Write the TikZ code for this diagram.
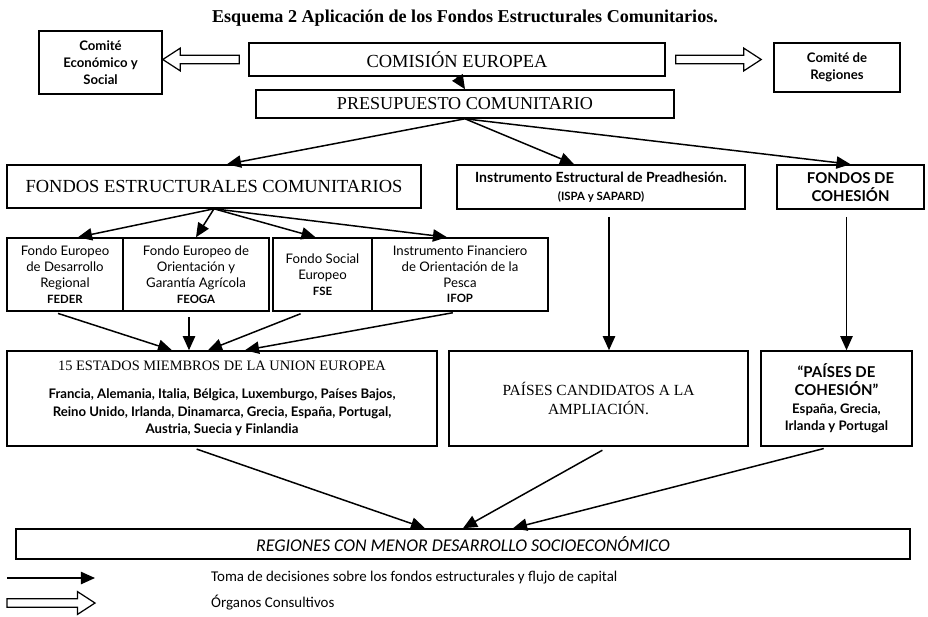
\documentclass[tikz,border=0pt]{standalone}
\usepackage{fontspec}
\setmainfont{Liberation Serif}
\newfontfamily\optfont{Lato}
\newfontfamily\gillfont{Carlito}
\usetikzlibrary{arrows.meta,calc}

\tikzset{
  box/.style={draw, line width=0.9pt, inner sep=1pt, align=center},
  flow/.style={line width=0.85pt, -{Triangle[length=8pt,width=7pt]}},
  hollow/.style={line width=0.7pt, to path={
    let \p1=(\tikztostart), \p2=(\tikztotarget), \n1={sign(\x2-\x1)} in
    ({\x1},{\y1+2.4pt}) -- ({\x2-(\n1)*10pt},{\y1+2.4pt}) -- ({\x2-(\n1)*10pt},{\y1+6.5pt})
    -- ({\x2},{\y1}) -- ({\x2-(\n1)*10pt},{\y1-6.5pt}) -- ({\x2-(\n1)*10pt},{\y1-2.4pt})
    -- ({\x1},{\y1-2.4pt}) -- cycle}},
  capstxt/.style={font=\fontsize{10.5}{12}\selectfont},
  boldtxt/.style={font=\optfont\bfseries\fontsize{7.5}{9.5}\selectfont},
  fundtxt/.style={font=\optfont\fontsize{7.5}{9}\selectfont},
  legtxt/.style={font=\gillfont\fontsize{8.5}{10}\selectfont, anchor=west},
}
\newcommand{\acro}[1]{{\bfseries\fontsize{6.5}{9}\selectfont #1}}
\newcommand{\ctyfont}{\optfont\bfseries\fontsize{7.5}{9.5}\selectfont}

\begin{document}
\begin{tikzpicture}[x=0.02cm, y=-0.02cm]
  \useasboundingbox (0,0) rectangle (928,616);
  % Title
  \node[font=\bfseries\fontsize{10.3}{12}\selectfont] (title) at (465,18)
    {Esquema 2 Aplicación de los Fondos Estructurales Comunitarios.};
  % Top row: commission and consultative bodies
  \node[box, boldtxt, minimum width=2.46cm, minimum height=1.26cm] (ces) at (100.5,62.5) {Comité\\Económico y\\Social};
  \node[box, capstxt, minimum width=8.32cm, minimum height=0.66cm] (com) at (457,59.5) {COMISIÓN EUROPEA};
  \node[box, boldtxt, minimum width=2.52cm, minimum height=0.98cm] (cdr) at (837,67.5) {Comité de\\Regiones};
  \node[box, font=\fontsize{10.3}{12}\selectfont, minimum width=8.36cm, minimum height=0.56cm] (pre) at (465,104) {PRESUPUESTO COMUNITARIO};
  % Second row: funds
  \node[box, font=\fontsize{10.5}{12}\selectfont, minimum width=8.28cm, minimum height=0.86cm] (fec) at (214,186.5) {FONDOS ESTRUCTURALES COMUNITARIOS};
  \node[box, boldtxt, font=\optfont\bfseries\fontsize{8}{10}\selectfont, minimum width=5.76cm, minimum height=0.88cm] (ispa) at (601,187)
    {Instrumento Estructural de Preadhesión.\\\acro{(ISPA y SAPARD)}};
  \node[box, font=\optfont\bfseries\fontsize{8.5}{10}\selectfont, minimum width=2.94cm, minimum height=0.88cm] (coh) at (850.5,187) {FONDOS DE\\COHESIÓN};
  % Structural funds
  \node[box, fundtxt, minimum width=2.32cm, minimum height=1.46cm] (feder) at (65,274.5) {Fondo Europeo\\de Desarrollo\\Regional\\\acro{FEDER}};
  \node[box, fundtxt, minimum width=2.92cm, minimum height=1.46cm] (feoga) at (196,274.5) {Fondo Europeo de\\Orientación y\\Garantía Agrícola\\\acro{FEOGA}};
  \node[box, fundtxt, minimum width=1.98cm, minimum height=1.46cm] (fse) at (322.5,274.5) {Fondo Social\\Europeo\\\acro{FSE}};
  \node[box, fundtxt, minimum width=3.52cm, minimum height=1.46cm] (ifop) at (460,274.5) {Instrumento Financiero\\de Orientación de la\\Pesca\\\acro{IFOP}};
  % Receiving countries
  \node[box, font=\fontsize{8.2}{10}\selectfont, minimum width=8.6cm, minimum height=1.9cm] (est) at (222,398.5)
    {15 ESTADOS MIEMBROS DE LA UNION EUROPEA\\[6pt]
     \ctyfont Francia, Alemania, Italia, Bélgica, Luxemburgo, Países Bajos,\\
     \ctyfont Reino Unido, Irlanda, Dinamarca, Grecia, España, Portugal,\\
     \ctyfont Austria, Suecia y Finlandia};
  \node[box, font=\fontsize{8.8}{10.5}\selectfont, minimum width=5.98cm, minimum height=1.9cm] (cand) at (598.5,398.5)
    {PAÍSES CANDIDATOS A LA\\AMPLIACIÓN.};
  \node[box, font=\optfont\bfseries\fontsize{8.5}{10}\selectfont, minimum width=3.02cm, minimum height=1.9cm] (pcoh) at (836.5,398.5)
    {“PAÍSES DE\\COHESIÓN”\\\ctyfont España, Grecia,\\\ctyfont Irlanda y Portugal};
  \node[box, font=\gillfont\itshape\fontsize{10.2}{12}\selectfont, minimum width=17.88cm, minimum height=0.6cm] (reg) at (463,544)
    {REGIONES CON MENOR DESARROLLO SOCIOECONÓMICO};
  % Consultative bodies (hollow arrows)
  \draw[hollow] ($(com.west)+(-9,0)$) to (com.west -| ces.east);
  \draw[hollow] ($(com.east)+(10,0)$) to ($(com.east -| cdr.west)+(-12,0)$);
  % Decisions and capital flow
  \draw[flow] (com.south) -- (pre.north);
  \draw[flow] (pre.south) -- ($(fec.north)+(13,0)$);
  \draw[flow] (pre.south) -- ($(ispa.north)+(-27,0)$);
  \draw[flow] (pre.south) -- (coh.north);
  \draw[flow] (fec.south) -- ($(feder.north)+(13,0)$);
  \draw[flow] (fec.south) -- (feoga.north);
  \draw[flow] (fec.south) -- ($(fse.north)+(-7,0)$);
  \draw[flow] (fec.south) -- ($(ifop.north)+(-13,0)$);
  \draw[flow, shorten <=3pt] ($(feder.south)+(-12,0)$) -- ($(est.north)+(-50,0)$);
  \draw[flow, shorten <=3pt] ($(feoga.south)+(-7,0)$) -- ($(est.north)+(-33,0)$);
  \draw[flow, shorten <=3pt] ($(fse.south)+(-17,0)$) -- ($(est.north)+(-14,0)$);
  \draw[flow, shorten <=3pt] ($(ifop.south)+(-2,0)$) -- ($(est.north)+(23,0)$);
  \coordinate (ispaout) at ($(ispa.south)+(8,0)$);
  \coordinate (cohout) at ($(coh.south)+(-4,0)$);
  \draw[flow, shorten <=4pt] (ispaout) -- (ispaout |- cand.north);
  \draw[flow, shorten <=4pt] (cohout) -- (cohout |- pcoh.north);
  \draw[flow, shorten <=4pt] ($(est.south)+(-32,0)$) -- ($(reg.north)+(-38,0)$);
  \draw[flow, shorten <=4pt] ($(cand.south)+(10,0)$) -- (reg.north);
  \draw[flow, shorten <=4pt] ($(pcoh.south)+(-6,0)$) -- ($(reg.north)+(50,0)$);
  % Legend
  \coordinate (lgflowa) at (7,578);
  \coordinate (lgflowb) at (95,578);
  \coordinate (lgconsa) at (7,603);
  \coordinate (lgconsb) at (95,603);
  \draw[flow] (lgflowa) -- (lgflowb);
  \draw[hollow] (lgconsa) to (lgconsb);
  \node[legtxt] (lgflow) at (205,578) {Toma de decisiones sobre los fondos estructurales y flujo de capital};
  \node[legtxt] (lgcons) at (205,603) {Órganos Consultivos};
\end{tikzpicture}
\end{document}
